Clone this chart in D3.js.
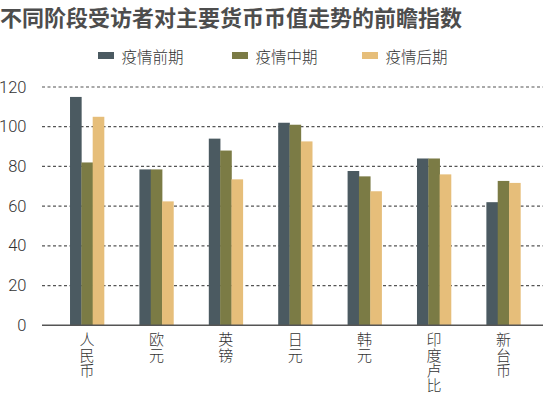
<!DOCTYPE html>
<html><head><meta charset="utf-8">
<script src="https://cdn.jsdelivr.net/npm/d3@7"></script>
<style>
body{margin:0;background:#fff;}
svg{display:block;font-family:"Noto Sans CJK SC","Noto Sans",sans-serif;}
</style></head>
<body><svg id="c" width="550" height="394"></svg>
<script>
const categories = ["人民币","欧元","英镑","日元","韩元","印度卢比","新台币"];
const seriesNames = ["疫情前期","疫情中期","疫情后期"];
const preValues = [115, 78.5, 94, 102, 77.7, 84, 62];
const midValues = [82, 78.5, 88, 101, 75, 84, 72.7];
const postValues = [105, 62.4, 73.5, 92.6, 67.5, 76, 71.7];
const yTicks = [0,20,40,60,80,100,120];
const colors = ["#4b5a61","#7b7b45","#e6be7a"];

const seriesValues = [preValues, midValues, postValues];
const svg = d3.select("#c");

const y = d3.scaleLinear().domain([0,120]).range([325.3, 87]);
const x = d3.scaleBand().domain(categories).range([49.2, 541.2]).paddingInner(0.51).paddingOuter(0.3);
const xs = d3.scaleBand().domain(seriesNames).range([0, x.bandwidth()]).padding(0);

// title
svg.append("text").attr("x",0).attr("y",26)
  .attr("font-size",22).attr("font-weight",700).attr("fill","#4d4d4d")
  .text("不同阶段受访者对主要货币币值走势的前瞻指数");

// legend
const legX = [98, 232, 362];
seriesNames.forEach((s,i)=>{
  svg.append("rect").attr("x",legX[i]).attr("y",52).attr("width",16).attr("height",7).attr("fill",colors[i]);
  svg.append("text").attr("x",legX[i]+23.5).attr("y",56).attr("dominant-baseline","central")
    .attr("font-size",15.5).attr("fill","#333").attr("font-weight",300).text(s);
});

// grid
const g = svg.append("g");
yTicks.forEach(t=>{
  if(t>0){
    g.append("line").attr("x1",42).attr("x2",543).attr("y1",y(t)).attr("y2",y(t))
      .attr("stroke","#555").attr("stroke-width",1.2).attr("stroke-dasharray","3,2.5");
  }
  g.append("text").attr("x",26.5).attr("y",y(t)).attr("text-anchor","end").attr("dominant-baseline","central")
    .attr("font-family","Roboto, 'Liberation Sans', sans-serif").attr("font-weight",300)
    .attr("font-size",16.5).attr("fill","#333").text(t);
});

// bars
categories.forEach((c,ci)=>{
  seriesNames.forEach((s,si)=>{
    const v = seriesValues[si][ci];
    svg.append("rect").attr("x",x(c)+xs(s)).attr("y",y(v))
      .attr("width",xs.bandwidth()+0.3).attr("height",y(0)-y(v)).attr("fill",colors[si]);
  });
});

// axis line
svg.append("line").attr("x1",42).attr("x2",543).attr("y1",y(0)).attr("y2",y(0))
  .attr("stroke","#555").attr("stroke-width",1.5);

// x labels vertical
categories.forEach(c=>{
  const cx = x(c)+x.bandwidth()/2;
  svg.append("text").attr("x",cx).attr("y",332)
    .attr("writing-mode","vertical-rl").style("text-orientation","upright")
    .attr("font-size",15).attr("letter-spacing",0.4)
    .attr("fill","#333").attr("font-weight",300).text(c);
});
</script></body></html>
